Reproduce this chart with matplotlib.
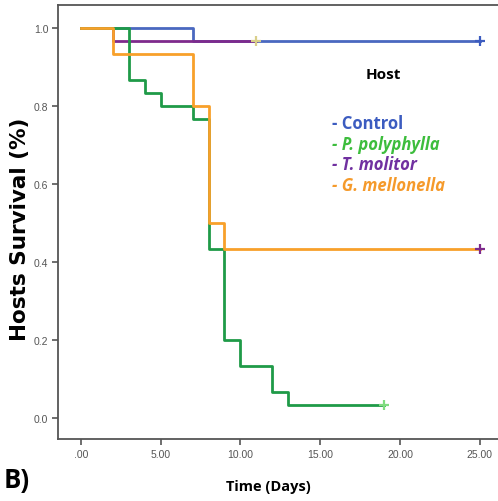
import matplotlib
matplotlib.use("Agg")
import matplotlib.pyplot as plt

# Kaplan-Meier step data
ctrl_t = [0, 7, 25]
ctrl_s = [1.0, 0.967, 0.967]

poly_t = [0, 3, 4, 5, 7, 8, 9, 10, 12, 13, 19]
poly_s = [1.0, 0.867, 0.833, 0.8, 0.767, 0.433, 0.2, 0.133, 0.067, 0.033, 0.033]

moli_t = [0, 2, 11]
moli_s = [1.0, 0.967, 0.967]

mell_t = [0, 2, 7, 8, 9, 25]
mell_s = [1.0, 0.933, 0.8, 0.5, 0.433, 0.433]

labels = ["Control", "P. polyphylla", "T. molitor", "G. mellonella"]
line_cols = ["#4a68c0", "#1f9a48", "#7e2a8c", "#f8a02a"]
text_cols = ["#3c5cc0", "#3dbd3d", "#7030a0", "#f59a2b"]
censor_cols = ["#3c5cc0", "#7fdc7f", "#d9cf8a", "#7e2a8c"]

fig = plt.figure(figsize=(4.98, 5.02), dpi=100)
ax = fig.add_axes([0.1165, 0.1235, 0.89, 0.8645])

# draw order: control, molitor, polyphylla, mellonella on top
series = [(ctrl_t, ctrl_s, 0), (moli_t, moli_s, 2), (poly_t, poly_s, 1), (mell_t, mell_s, 3)]
for t, s, i in series:
    ax.step(t, s, where="post", color=line_cols[i], lw=2.0)
for t, s, i in series:
    ax.plot(t[-1], s[-1], marker="+", color=censor_cols[i], ms=7, mew=1.6, zorder=5)

ax.set_xlim(-1.43, 26.34)
ax.set_ylim(-0.054, 1.059)
ax.set_xticks([0, 5, 10, 15, 20, 25])
ax.set_xticklabels([".00", "5.00", "10.00", "15.00", "20.00", "25.00"])
ax.set_yticks([0, 0.2, 0.4, 0.6, 0.8, 1.0])
ax.set_yticklabels(["0.0", "0.2", "0.4", "0.6", "0.8", "1.0"])
ax.tick_params(colors="#555555", labelsize=7.5, length=4, width=1.2, pad=3)
for lbl in ax.get_xticklabels() + ax.get_yticklabels():
    lbl.set_family("Liberation Sans")
for sp in ["left", "bottom", "top"]:
    ax.spines[sp].set_color("#555555")
    ax.spines[sp].set_linewidth(1.3)
ax.spines["right"].set_visible(False)

fig.text(20 / 498, 1 - 229 / 502, "Hosts Survival (%)", rotation=90, fontsize=15.5,
         fontweight="bold", family="DejaVu Sans", ha="center", va="center")
fig.text(268 / 498, 1 - 487 / 502, "Time (Days)", fontsize=10.5, fontweight="bold",
         family="Open Sans", ha="center", va="center")

fig.text(383 / 498, 1 - 75 / 502, "Host", fontsize=11, fontweight="bold",
         family="Open Sans", ha="center", va="center")
ys = [124, 145, 165, 186]
for lab, col, y in zip(labels, text_cols, ys):
    style = "normal" if lab == "Control" else "italic"
    fig.text(332 / 498, 1 - y / 502, "- " + lab, color=col, fontsize=12,
             fontweight="bold", style=style, family="Open Sans", va="center")

fig.text(4 / 498, 1 - 481 / 502, "B)", fontsize=18.5, fontweight="bold",
         family="Open Sans", va="center")

fig.savefig("out.png", dpi=100)
